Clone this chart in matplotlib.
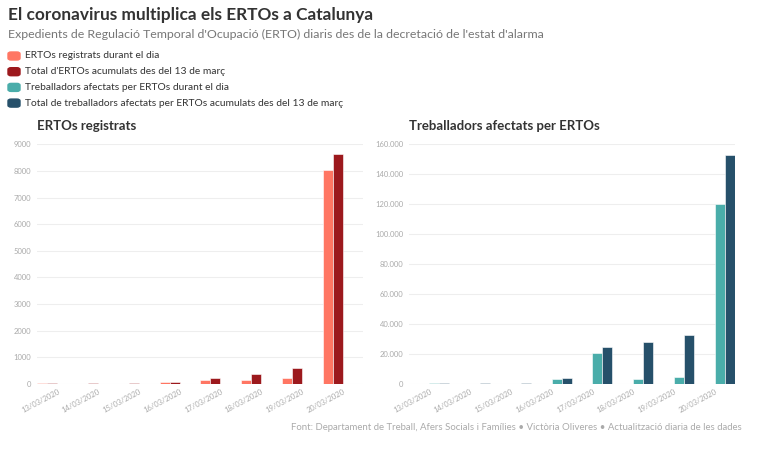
import matplotlib
matplotlib.use("Agg")
import matplotlib.pyplot as plt
from matplotlib.patches import FancyBboxPatch
from matplotlib.ticker import FuncFormatter, MultipleLocator

plt.rcParams["font.family"] = ["Lato", "DejaVu Sans"]

dates = ["13/03/2020", "14/03/2020", "15/03/2020", "16/03/2020",
         "17/03/2020", "18/03/2020", "19/03/2020", "20/03/2020"]

ertos_dia = [30, 0, 0, 60, 140, 150, 240, 8040]
ertos_total = [30, 30, 30, 90, 220, 370, 610, 8650]
treb_dia = [400, 0, 0, 3600, 20500, 3300, 4900, 120000]
treb_total = [400, 400, 400, 4000, 24500, 27800, 32600, 152600]

series_labels = [
    "ERTOs registrats durant el dia",
    "Total d'ERTOs acumulats des del 13 de març",
    "Treballadors afectats per ERTOs durant el dia",
    "Total de treballadors afectats per ERTOs acumulats des del 13 de març",
]
colors = ["#ff7663", "#9c191d", "#4aadaa", "#26506a"]

W, H = 768, 450
fig = plt.figure(figsize=(W / 100, H / 100), dpi=100)


def fx(px):
    return px / W


def fy(py):
    return 1 - py / H


fig.text(fx(8), fy(15), "El coronavirus multiplica els ERTOs a Catalunya",
         fontsize=12.4, fontweight="bold", color="#333333", va="center")
fig.text(fx(8), fy(34), "Expedients de Regulació Temporal d'Ocupació (ERTO) diaris des de la decretació de l'estat d'alarma",
         fontsize=8.9, color="#777777", va="center")

for i, (lab, c) in enumerate(zip(series_labels, colors)):
    yc = 56 + i * 15.7
    fig.patches.append(FancyBboxPatch((fx(8), fy(yc + 4)), fx(12), 8 / H,
                                      boxstyle="round,pad=0,rounding_size=0.004",
                                      transform=fig.transFigure, color=c))
    fig.text(fx(25), fy(yc), lab, fontsize=7.4, color="#333333", va="center")

w = 0.245
offsets = [-1.5 * w, -0.5 * w, 0.5 * w, 1.5 * w]
x = list(range(len(dates)))


def style(ax, title, ymax, step, fmt):
    ax.set_xlim(-0.5, len(dates) - 0.5)
    ax.set_ylim(0, ymax)
    ax.yaxis.set_major_locator(MultipleLocator(step))
    ax.yaxis.set_major_formatter(FuncFormatter(fmt))
    for s in ax.spines.values():
        s.set_visible(False)
    ax.grid(axis="y", color="#eeeeee", linewidth=0.8)
    ax.set_axisbelow(True)
    ax.tick_params(axis="y", length=0, labelsize=5.5, labelcolor="#aaaaaa", pad=4)
    ax.tick_params(axis="x", length=0, labelsize=5.5, labelcolor="#aaaaaa", pad=3)
    ax.set_xticks(x)
    ax.set_xticklabels(dates, rotation=28, ha="right", rotation_mode="anchor")
    ax.set_title(title, loc="left", fontsize=9.5, fontweight="bold", color="#333333", pad=10)


ax1 = fig.add_axes([fx(37), fy(384), fx(326), (384 - 144.3) / H])
ax2 = fig.add_axes([fx(409), fy(384), fx(326), (384 - 144.3) / H])

for vals, off, c in [(ertos_dia, offsets[0], colors[0]), (ertos_total, offsets[1], colors[1])]:
    ax1.bar([i + off for i in x], vals, width=w, color=c, edgecolor="white", linewidth=0.4)
for vals, off, c in [(treb_dia, offsets[2], colors[2]), (treb_total, offsets[3], colors[3])]:
    ax2.bar([i + off for i in x], vals, width=w, color=c, edgecolor="white", linewidth=0.4)

style(ax1, "ERTOs registrats", 9000, 1000, lambda v, p: f"{int(v)}")
style(ax2, "Treballadors afectats per ERTOs", 160000, 20000,
      lambda v, p: f"{int(v):,}".replace(",", "."))

fig.text(fx(742), fy(427),
         "Font: Departament de Treball, Afers Socials i Famílies • Victòria Oliveres • Actualització diaria de les dades",
         fontsize=6.9, color="#aaaaaa", ha="right", va="center")

fig.savefig("out.png", dpi=100)
